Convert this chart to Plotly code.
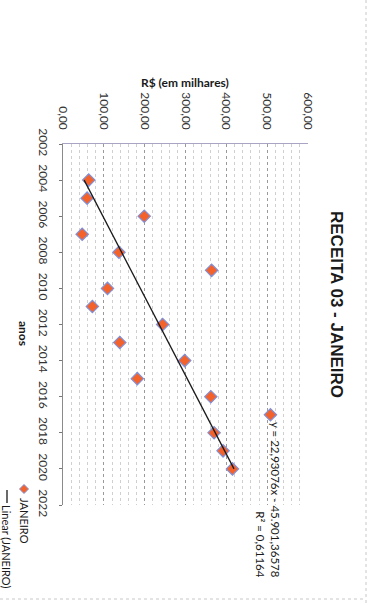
import plotly.graph_objects as go

# ---- data ----
anos = [2004, 2005, 2006, 2007, 2008, 2009, 2010, 2011, 2012,
        2013, 2014, 2015, 2016, 2017, 2018, 2019, 2020]
janeiro = [63, 59, 199, 47, 137, 364, 109, 72, 244,
           139, 298, 182, 362, 508, 370, 392, 415]

valor_ticks = [0, 100, 200, 300, 400, 500, 600]
valor_labels = ["0,00", "100,00", "200,00", "300,00", "400,00", "500,00", "600,00"]
ano_ticks = [2002, 2004, 2006, 2008, 2010, 2012, 2014, 2016, 2018, 2020, 2022]
ano_labels = [str(a) for a in ano_ticks]

slope = 22.93076
intercept = -45901.36578
r2_text = "0,61164"
eq_text = "y = 22,93076x - 45.901,36578"

trend_years = [anos[0], anos[-1]]
trend_vals = [slope * a + intercept for a in trend_years]

# ---- layout geometry (pixels) ----
W, H = 369, 605
L, R, T, B = 63, 308, 144, 505


def px(x):
    return (x - L) / (R - L)


def py(y):
    return (B - y) / (B - T)


fig = go.Figure()

fig.add_trace(go.Scatter(
    x=janeiro, y=anos, mode="markers", name="JANEIRO",
    marker=dict(symbol="diamond", size=9.5, color="#F4622C",
                line=dict(color="#8090D8", width=1.2)),
    showlegend=False, hoverinfo="skip",
))
fig.add_trace(go.Scatter(
    x=trend_vals, y=trend_years, mode="lines", name="Linear (JANEIRO)",
    line=dict(color="#1a1a1a", width=1.3), showlegend=False, hoverinfo="skip",
))

tickfont = dict(family="Lato", size=12, color="#333333")

fig.update_layout(
    width=W, height=H,
    margin=dict(l=L, r=W - R, t=T, b=H - B, pad=0, autoexpand=False),
    paper_bgcolor="white", plot_bgcolor="white",
    showlegend=False,
    xaxis=dict(
        range=[0, 600], side="top", tickvals=valor_ticks, ticktext=valor_labels,
        tickangle=90, tickfont=tickfont, ticks="", ticklabelstandoff=9,
        showgrid=True, gridcolor="#9a9a9a", griddash="dot", gridwidth=1,
        minor=dict(dtick=20, showgrid=True, gridcolor="#cfcfcf", griddash="dot", gridwidth=1),
        showline=True, linecolor="#a9a3c4", linewidth=1,
        zeroline=False, fixedrange=True, automargin=False,
    ),
    yaxis=dict(
        range=[2022, 2002], tickvals=ano_ticks, ticktext=ano_labels,
        tickangle=90, tickfont=tickfont, ticklabelstandoff=6,
        ticks="outside", ticklen=3, tickcolor="#777777",
        showgrid=False, zeroline=False,
        showline=True, linecolor="#8a8a8a", linewidth=1,
        fixedrange=True, automargin=False,
    ),
)

ann = []
ann.append(dict(text="<b>RECEITA 03 - JANEIRO</b>", x=px(337), y=py(304), textangle=90,
                font=dict(family="Liberation Sans", size=17, color="#1a1a1a")))
ann.append(dict(text="<b>R$ (em milhares)</b>", x=px(185), y=py(82),
                font=dict(family="Lato", size=12, color="#1a1a1a")))
ann.append(dict(text="<b>anos</b>", x=px(24), y=py(333), textangle=90,
                font=dict(family="Lato", size=12, color="#1a1a1a")))
ann.append(dict(text=eq_text + "<br>R² = " + r2_text, x=px(268), y=py(500), textangle=90,
                align="right", font=dict(family="Lato", size=11.5, color="#1a1a1a")))
ann.append(dict(text="JANEIRO", x=px(25), y=py(521), textangle=90,
                font=dict(family="Lato", size=11, color="#1a1a1a")))
ann.append(dict(text="Linear (JANEIRO)", x=px(7), y=py(546), textangle=90,
                font=dict(family="Lato", size=11, color="#1a1a1a")))
for a in ann:
    a.update(xref="paper", yref="paper", showarrow=False,
             xanchor="center", yanchor="middle")
fig.update_layout(annotations=ann)

# legend marker (diamond) and line
cx, cy, hs = 24, 489, 4.5
path = "M {x0} {y0} L {x1} {y1} L {x2} {y2} L {x3} {y3} Z".format(
    x0=px(cx), y0=py(cy - hs), x1=px(cx + hs), y1=py(cy),
    x2=px(cx), y2=py(cy + hs), x3=px(cx - hs), y3=py(cy))
shapes = [
    dict(type="path", path=path, xref="paper", yref="paper",
         fillcolor="#F4622C", line=dict(color="#8090D8", width=1)),
    dict(type="line", xref="paper", yref="paper", x0=px(7), x1=px(7),
         y0=py(490), y1=py(503), line=dict(color="#1a1a1a", width=1.3)),
    # scan page edges
    dict(type="line", xref="paper", yref="paper", x0=px(366), x1=px(366),
         y0=py(0), y1=py(605), line=dict(color="#c8c8c8", width=1, dash="dot")),
    dict(type="line", xref="paper", yref="paper", x0=px(0), x1=px(366),
         y0=py(599), y1=py(599), line=dict(color="#c8c8c8", width=1, dash="dot")),
]
fig.update_layout(shapes=shapes)

fig.write_html(
    "out.html",
    config={"displayModeBar": False, "staticPlot": True},
    post_script="document.body.style.margin='0';document.body.style.overflow='hidden';",
)
